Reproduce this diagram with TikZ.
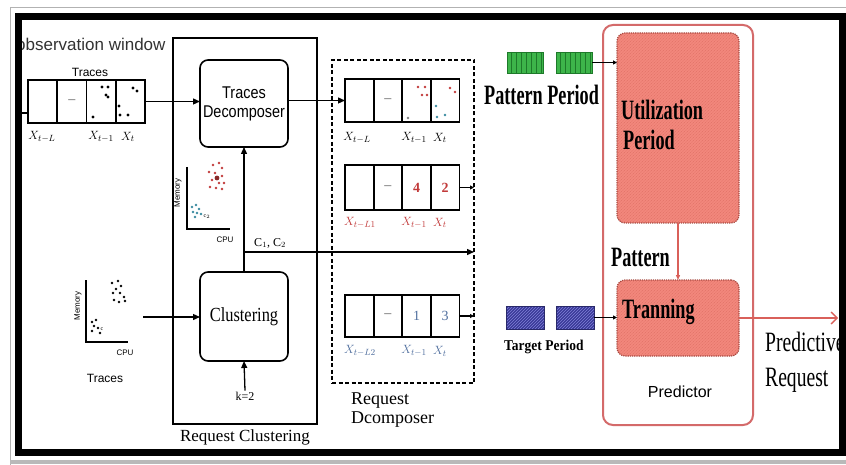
\documentclass[tikz,border=0pt]{standalone}
\usepackage{fontspec}
\setmainfont{Liberation Serif}
\setsansfont{Liberation Sans}
\usetikzlibrary{arrows.meta,patterns}

\definecolor{salmon}{HTML}{F2877C}
\definecolor{salmonhatch}{HTML}{E27368}
\definecolor{salmonedge}{HTML}{A84A42}
\definecolor{predred}{HTML}{D46A6A}
\definecolor{arrred}{HTML}{D9605A}
\definecolor{patgreen}{HTML}{3DB54A}
\definecolor{patgreendk}{HTML}{1E7A2A}
\definecolor{tgtblue}{HTML}{3A3A98}
\definecolor{tgtbluelt}{HTML}{8080D8}
\definecolor{redtxt}{HTML}{C23A3A}
\definecolor{bluetxt}{HTML}{4F6E9E}
\definecolor{dotcyan}{HTML}{3A8AA0}
\definecolor{txtgray}{HTML}{333333}

% horizontally condensed text
\newcommand\sqz[2]{\scalebox{#1}[1]{#2}}

% a row of four cells: name, left x, top y, cell width, cell height
\newcommand\cellrow[5]{%
  \foreach \i in {1,2,3,4}{
    \node[cell, minimum width=#4pt, minimum height=#5pt] (#1-\i) at ({#2+(\i-1)*#4},#3) {};
  }
  \draw[line width=2.6pt] (#1-1.north west) -- (#1-4.north east);
  \draw[line width=2.6pt] (#1-1.south west) -- (#1-4.south east);
}

\begin{document}
\begin{tikzpicture}[x=1pt,y=-1pt,
  cell/.style={draw, line width=1.8pt, inner sep=0pt, outer sep=0pt, anchor=north west},
  gap/.style={font=\fontsize{14}{14}\selectfont, text=txtgray!80},
  arr/.style={line width=1.3pt, -{Triangle[length=7pt,width=6pt]}},
  smallarr/.style={line width=1.2pt, -{Triangle[length=4pt,width=4pt]}},
  block/.style={draw, line width=1.6pt, rounded corners=8pt, inner sep=0pt, outer sep=0pt, minimum width=88pt},
  redblock/.style={preaction={fill=salmon}, pattern=north east lines, pattern color=salmonhatch, draw=salmonedge, densely dotted, line width=1.2pt, rounded corners=8pt, inner sep=0pt, outer sep=0pt, minimum width=122pt},
  xlab/.style={font=\fontsize{13}{14}\selectfont, inner sep=0pt},
  bigb/.style={font=\fontsize{28}{31}\selectfont\bfseries, inner sep=0pt, anchor=west, align=left},
  bigr/.style={font=\fontsize{28}{35}\selectfont, inner sep=0pt, anchor=west, align=left},
  axislab/.style={font=\sffamily\fontsize{8}{9}\selectfont, inner sep=0pt},
  greenbox/.style={draw=patgreendk, fill=patgreen, line width=0.8pt, minimum width=36pt, minimum height=21pt, inner sep=0pt, outer sep=0pt,
    path picture={\foreach \k in {-14,-9,...,16}{\draw[patgreendk, line width=0.8pt] ([xshift=\k pt]path picture bounding box.north) -- ([xshift=\k pt]path picture bounding box.south);}}},
  bluebox/.style={draw=tgtblue!70!black, preaction={fill=tgtblue}, pattern=north east lines, pattern color=tgtbluelt, line width=0.8pt, minimum width=38pt, minimum height=23pt, inner sep=0pt, outer sep=0pt}
]
\useasboundingbox (0,0) rectangle (846,465);
\fill[white] (0,0) rectangle (846,465);

% shadow lines round the frame
\draw[gray!60, line width=1pt] (10,465) -- (10,8) -- (846,8);
\draw[gray!55, line width=4pt] (10,462) -- (846,462);

% ---------------- input traces ----------------
\node[font=\sffamily\fontsize{17}{18}\selectfont, text=txtgray, anchor=west, inner sep=0pt] (obs) at (16,44) {observation window};
\node[font=\sffamily\fontsize{12}{13}\selectfont, inner sep=0pt] (trlab) at (90,72) {Traces};
\cellrow{tr}{28}{80}{29.25}{43}
\node[gap] at (tr-2) {--};
\foreach \p in {(102,87),(108,87),(106,95),(108,97),(93,117),(133,88),(137,91),(119,106),(120,115),(128,115)}
  {\fill \p circle[radius=1.6pt];}
\node[xlab] at (42,137) {$X_{t-L}$};
\node[xlab] at (101,137) {$X_{t-1}$};
\node[xlab] at (128,137) {$X_t$};
\coordinate (instub) at (20,113);
\draw[line width=1.3pt] (instub) -- (instub -| tr-1.west);

% bottom-left scatter of traces
\draw[line width=1.3pt] (86,280) -- (86,342) -- (128,342);
\node[axislab, rotate=90] at (78,306) {Memory};
\node[axislab] at (125,353) {CPU};
\foreach \p in {(112,283),(118,281),(121,286),(116,289),(113,293),(120,293),(124,297),(114,300),(119,302),(125,301),(92,322),(96,320),(94,326),(98,328),(92,331),(100,333)}
  {\fill \p circle[radius=1.4pt];}
\node[font=\fontsize{6}{6}\selectfont, inner sep=0pt] at (102,329) {c};
\node[font=\sffamily\fontsize{12}{13}\selectfont, inner sep=0pt] (trlab2) at (105,378) {Traces};

% ---------------- request clustering ----------------
\node[draw, line width=1.6pt, minimum width=144pt, minimum height=386pt, inner sep=0pt, outer sep=0pt] (rc) at (245,231) {};
\node[font=\fontsize{17}{18}\selectfont, inner sep=0pt] (rclab) at (245,437) {Request Clustering};

\node[block, minimum height=87pt, font=\sffamily\fontsize{17}{19}\selectfont, align=center] (tdec) at (244,103.5)
  {\sqz{0.85}{Traces}\\\sqz{0.85}{Decomposer}};
\node[block, minimum height=89pt, font=\fontsize{20}{22}\selectfont] (clu) at (244,316.5) {\sqz{0.82}{Clustering}};

% clustered scatter
\draw[line width=1.3pt] (187,167) -- (187,229) -- (230,229);
\node[axislab, rotate=90] at (178,193) {Memory};
\node[axislab] at (225,240) {CPU};
\foreach \p in {(213,165),(219,163),(222,168),(209,172),(215,173),(222,176),(212,180),(219,183),(224,183),(210,187),(216,188),(222,189)}
  {\fill[redtxt] \p circle[radius=1.3pt];}
\fill[redtxt!70!black] (217,178) circle[radius=2.4pt];
\foreach \p in {(192,207),(196,205),(199,209),(193,212),(197,213),(201,214),(195,217)}
  {\fill[dotcyan] \p circle[radius=1.3pt];}
\node[font=\fontsize{6}{6}\selectfont, inner sep=0pt] at (207,217) {c$_2$};

\coordinate (plotB) at (143,317);
\draw[arr] (plotB) -- (plotB -| clu.west);
\draw[arr] (tr-4.east) -- (tr-4.east -| tdec.west);
\draw[arr] (clu.north) -- (tdec.south);
\node[font=\fontsize{12}{13}\selectfont, inner sep=1pt] (k) at (245,396) {k=2};
\draw[arr] (k.north) -- (clu.south);

% ---------------- request decomposer ----------------
\node[draw, dashed, dash pattern=on 4pt off 2.5pt, line width=2.2pt, minimum width=142pt, minimum height=323pt, inner sep=0pt, outer sep=0pt] (dec) at (403,221.5) {};
\node[font=\fontsize{18}{19}\selectfont, inner sep=0pt, anchor=west, align=left] (declab) at (351,410) {Request\\Dcomposer};

\cellrow{d1}{345}{79}{28.6}{43}
\node[gap] at (d1-2) {--};
\foreach \p in {(418,87),(425,87),(422,95),(427,95),(450,88),(455,92)}
  {\fill[redtxt] \p circle[radius=1.4pt];}
\foreach \p in {(436,106),(437,117),(445,115)}
  {\fill[dotcyan] \p circle[radius=1.4pt];}
\fill[gray] (408,118) circle[radius=1.4pt];
\node[xlab] at (357,138) {$X_{t-L}$};
\node[xlab] at (414,138) {$X_{t-1}$};
\node[xlab] at (440,138) {$X_t$};

\cellrow{d2}{345}{165}{28.6}{45}
\node[gap] at (d2-2) {--};
\node[font=\fontsize{14}{15}\selectfont\bfseries, text=redtxt] at (d2-3) {4};
\node[font=\fontsize{14}{15}\selectfont\bfseries, text=redtxt] at (d2-4) {2};
\node[xlab, text=redtxt] at (360,223) {$X_{t-L1}$};
\node[xlab, text=redtxt] at (414,223) {$X_{t-1}$};
\node[xlab, text=redtxt] at (440,223) {$X_t$};

\cellrow{d3}{345}{295}{28.6}{42}
\node[gap] at (d3-2) {--};
\node[font=\fontsize{14}{15}\selectfont, text=bluetxt] at (d3-3) {1};
\node[font=\fontsize{14}{15}\selectfont, text=bluetxt] at (d3-4) {3};
\node[xlab, text=bluetxt] at (360,351) {$X_{t-L2}$};
\node[xlab, text=bluetxt] at (414,351) {$X_{t-1}$};
\node[xlab, text=bluetxt] at (440,351) {$X_t$};

\draw[arr] (tdec.east |- d1-1.west) -- (d1-1.west);
\draw[smallarr] (d2-4.east) -- (d2-4.east -| dec.east);
\draw[smallarr] (d3-4.east) -- (d3-4.east -| dec.east);
\coordinate (cjoin) at (245,252);
\draw[arr] (cjoin) -- (cjoin -| dec.east);
\node[font=\fontsize{12}{13}\selectfont, inner sep=0pt] (cc) at (270,243) {C$_1$, C$_2$};

% ---------------- predictor ----------------
\node[draw=predred, line width=2pt, rounded corners=10pt, minimum width=150pt, minimum height=400pt, inner sep=0pt, outer sep=0pt] (pred) at (678,225) {};
\node[font=\sffamily\fontsize{16}{17}\selectfont, text=black, inner sep=0pt] (predlab) at (680,392) {Predictor};

\node[redblock, minimum height=190pt] (util) at (678,128) {};
\node[redblock, minimum height=76pt] (tran) at (678,318) {};
\node[bigb] (utiltxt) at (621,125) {\sqz{0.65}{Utilization}\\[-1pt]\hspace*{2pt}\sqz{0.65}{Period}};
\node[bigb] (trantxt) at (622,312) {\sqz{0.65}{Tranning}};
\node[bigb] (pattxt) at (611,257) {\sqz{0.65}{Pattern}};
\draw[arrred, line width=1.2pt, -{Triangle[length=5pt,width=4pt]}] (util.south) -- (tran.north);

% pattern and target periods
\node[greenbox] (pg1) at (525,62.5) {};
\node[greenbox] (pg2) at (574,62.5) {};
\node[bigb] (pplab) at (484,95) {\sqz{0.65}{Pattern Period}};
\draw[smallarr] (pg2.east) -- (pg2.east -| util.west);

\node[bluebox] (tb1) at (525,317.5) {};
\node[bluebox] (tb2) at (575,317.5) {};
\node[font=\fontsize{15}{16}\selectfont\bfseries, inner sep=0pt, anchor=west] (tplab) at (504,347) {\sqz{0.9}{Target Period}};
\draw[smallarr] (tb2.east) -- (tb2.east -| tran.west);

% predicted output
\coordinate (outend) at (838,318);
\draw[arrred, line width=1.3pt, -{Straight Barb[length=6pt,width=12pt]}] (tran.east) -- (outend);
\node[bigr] (predout) at (765,362) {\sqz{0.7}{Predictive}\\\sqz{0.7}{Request}};

% thick outer frame
\draw[line width=7pt] (18.5,16.5) rectangle (842.5,452.5);
\end{tikzpicture}
\end{document}
